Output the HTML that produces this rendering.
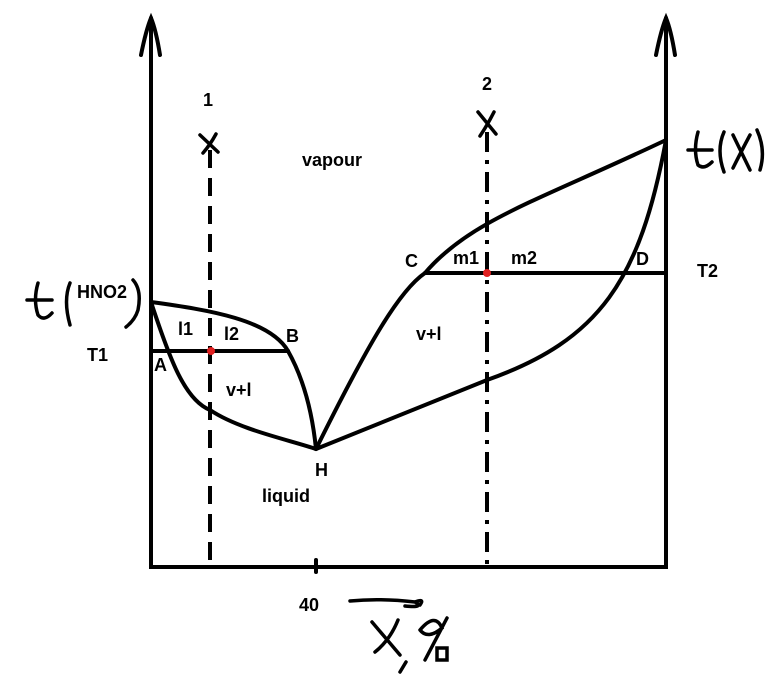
<!DOCTYPE html>
<html><head><style>body{margin:0;background:#fff}svg{display:block}text{font-family:"Liberation Sans",sans-serif;font-weight:bold;font-size:18px;fill:#000}</style></head>
<body>
<svg width="773" height="679" viewBox="0 0 773 679" xmlns="http://www.w3.org/2000/svg">
<g stroke="#000" stroke-width="4" fill="none" stroke-linecap="round">
<path d="M151 18 V567 H666 V18"/>
<path d="M141 55 Q146 30 151 18 Q156 30 160 55"/>
<path d="M656 55 Q661 30 666 18 Q671 30 675 55"/>
<path d="M316 560 V572"/>
<path d="M210 150 V567" stroke-dasharray="18 10" stroke-linecap="butt"/>
<path d="M487 132 V567" stroke-dasharray="20 8 4 8" stroke-linecap="butt"/>
<path d="M151 302 C210 310 270 320 288 351 Q310 390 316 449"/>
<path d="M151 302 C170 360 185 400 210 410 C240 430 290 440 316 449"/>
<path d="M316 449 L487 380 C600 340 640 280 666 140"/>
<path d="M316 449 C370 340 400 290 425 273 C470 220 540 200 666 140"/>
<path d="M151 351 H288"/>
<path d="M425 273 H666"/>
<path d="M200 135 L218 152 M216 134 Q210 145 203 153" stroke-width="3.5"/>
<path d="M478 112 L496 134 M494 112 Q488 124 480 136" stroke-width="3.5"/>
<path d="M27 300 H52 M38 283 Q33 300 38 315 Q44 322 52 313 M70 283 Q63 300 70 325 M133 280 Q142 290 138 310 Q135 320 126 327" stroke-width="3.5"/>
<path d="M688 150 H712 M698 132 Q693 150 698 165 Q704 170 712 162 M724 132 Q716 150 724 172 M733 135 L750 170 M750 135 Q742 150 733 168 M757 130 Q766 150 760 170" stroke-width="3.5"/>
<path d="M350 601 Q380 598 415 602 Q425 598 420 605 M415 602 Q425 608 405 606" stroke-width="3.5"/>
<path d="M372 622 L400 655 M398 620 Q390 640 375 652 M406 662 L400 672 M420 630 Q435 612 442 628 Q428 640 420 630 M447 618 L425 660 M437 648 H447 V660 H437 Z" stroke-width="3.5"/>
</g>
<circle cx="211" cy="351" r="4" fill="#e02020"/>
<circle cx="487" cy="273" r="4" fill="#e02020"/>
<text x="203" y="106">1</text>
<text x="482" y="90">2</text>
<text x="302" y="166">vapour</text>
<text x="77" y="298">HNO2</text>
<text x="178" y="335">l1</text>
<text x="224" y="340">l2</text>
<text x="286" y="342">B</text>
<text x="87" y="361">T1</text>
<text x="154" y="371">A</text>
<text x="226" y="396">v+l</text>
<text x="416" y="340">v+l</text>
<text x="315" y="476">H</text>
<text x="262" y="502">liquid</text>
<text x="405" y="267">C</text>
<text x="453" y="264">m1</text>
<text x="511" y="264">m2</text>
<text x="636" y="265">D</text>
<text x="697" y="277">T2</text>
<text x="299" y="611">40</text>
</svg>
</body></html>
